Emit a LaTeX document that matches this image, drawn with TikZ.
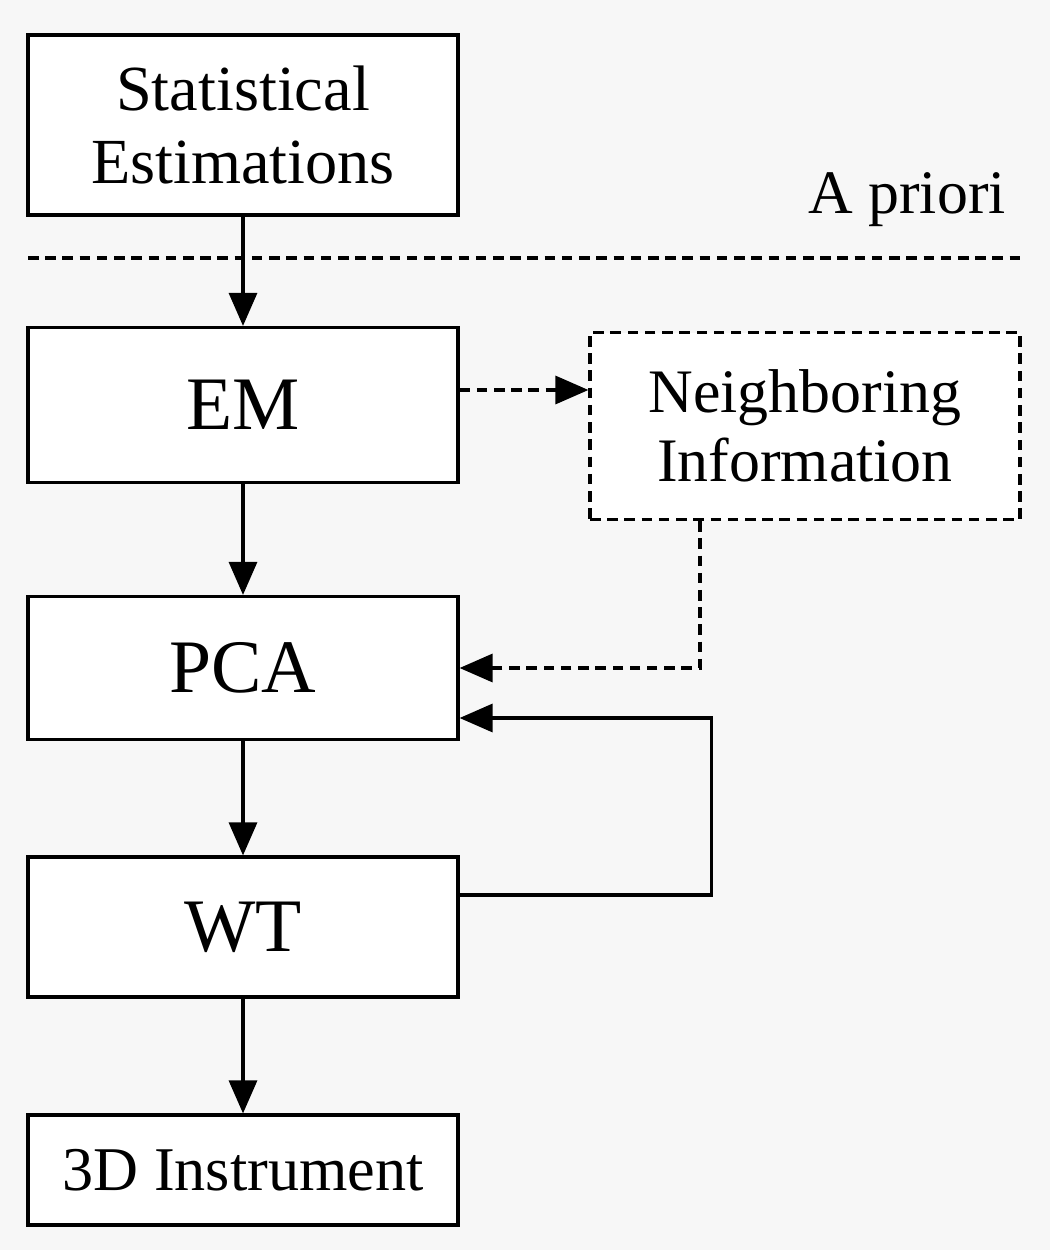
\documentclass[tikz,border=0pt]{standalone}
\usepackage{fontspec}
\setmainfont{Liberation Serif}
\usetikzlibrary{arrows.meta}
\usetikzlibrary{positioning}
\usetikzlibrary{calc}

\begin{document}
\begin{tikzpicture}[on grid,
    block/.style={draw, line width=0.9pt, fill=white, minimum width=4.3cm, align=center, inner sep=0pt},
    dbox/.style={block, dashed, dash pattern=on 3pt off 1.9pt},
    dline/.style={dashed, dash pattern=on 3pt off 1.9pt},
    >={Triangle[length=3.3mm,width=2.8mm]}, line width=0.9pt]
            \useasboundingbox[fill=black!3] (0,0) rectangle (10.5,-12.5);
            \node[block, minimum height=1.8cm, font=\fontsize{18.3}{21}\selectfont] (stat) at (2.43,-1.25) {Statistical\\Estimations};
            \node[block, minimum height=1.55cm, font=\fontsize{21.5}{24}\selectfont] (em) [below=2.8cm of stat] {EM};
            \node[dbox, minimum height=1.87cm, font=\fontsize{17.6}{19.5}\selectfont] (neigh) [right=5.62cm of em, yshift=-0.21cm] {Neighboring\\Information};
            \node[block, minimum height=1.43cm, font=\fontsize{21.5}{24}\selectfont] (pca) [below=2.63cm of em] {PCA};
            \node[block, minimum height=1.4cm, font=\fontsize{21.5}{24}\selectfont] (wt) [below=2.59cm of pca] {WT};
            \node[block, minimum height=1.1cm, font=\fontsize{17.7}{20}\selectfont] (inst) [below=2.43cm of wt] {3D Instrument};
            \node[font=\fontsize{17.6}{20}\selectfont] (apriori) at (9.07,-2.0) {A priori};
            \coordinate (sepl) at (0.28,-2.58);
            \coordinate (sepr) at (10.2,-2.58);
            \draw[dline] (sepl) -- (sepr);
            \draw[->] (stat) -- (em);
            \draw[->] (em) -- (pca);
            \draw[->] (pca) -- (wt);
            \draw[->] (wt) -- (inst);
            \draw[->, dline] ([yshift=0.15cm]em.east) -- ([yshift=0.15cm]em.east -| neigh.west);
            \draw[->, dline] ([xshift=-1.05cm]neigh.south) |- (pca.east);
            \draw[->] ([yshift=0.32cm]wt.east) -- ++(2.52,0) |- ([yshift=-0.5cm]pca.east);
        \end{tikzpicture}
\end{document}
